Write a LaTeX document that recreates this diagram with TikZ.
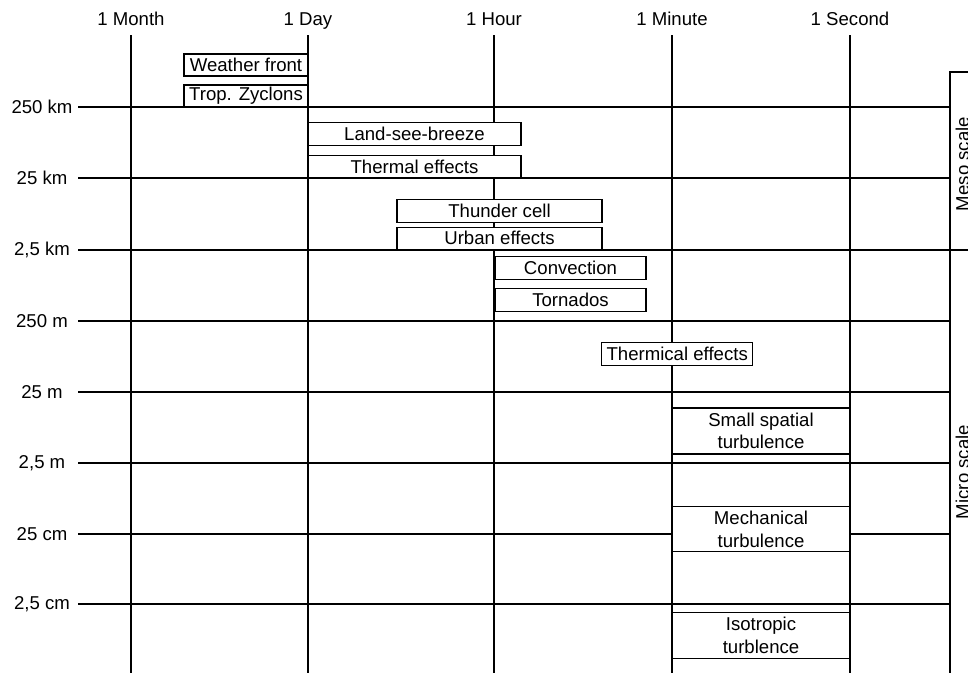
\documentclass[tikz,border=0pt]{standalone}
\usepackage{fontspec}
\setmainfont{Liberation Sans}
\tikzset{grid/.style={line width=1.1pt}}
\tikzset{lbl/.style={inner sep=0pt}}
\tikzset{event/.style={draw,fill=white,line width=1.1pt,inner sep=0pt,align=center}}

\begin{document}
\begin{tikzpicture}[x=1pt,y=-1pt,font=\fontsize{18.6}{22.6}\selectfont]
    \useasboundingbox (0,0) rectangle (968,673);
    % time axis
    \foreach \x/\t [count=\i] in {131/1 Month,308/1 Day,494/1 Hour,672/1 Minute,850/1 Second}{
      \node[lbl,anchor=base] (time\i) at (\x,25) {\t};
      \draw[grid] (\x,35) -- (\x,673);
    }
    % length axis
    \foreach \y/\t [count=\i] in {107/250 km,178/25 km,{250/2,5 km},321/250 m,392/25 m,{463/2,5 m},534/25 cm,{604/2,5 cm}}{
      \node[lbl] (len\i) at (42,\y) {\t};
      \draw[grid] (78,\y) -- (950,\y);
    }
    % scale bracket
    \coordinate (mtop) at (968,72);
    \coordinate (mcor) at (950,72);
    \coordinate (mbot) at (950,673);
    \draw[grid] (mtop) -- (mcor) -- (mbot);
    \draw[grid] (950,250) -- (968,250);
    \node[lbl,rotate=90] (meso) at (962.5,164) {Meso scale};
    \node[lbl,rotate=90] (micro) at (962.5,472) {Micro scale};
    % phenomena
    \node[event,minimum width=124,minimum height=22] (wfront) at (246,65) {Weather front};
    \node[event,minimum width=124,minimum height=22] (trop) at (246,96) {Trop. Zyclons};
    \node[event,minimum width=213,minimum height=23] (breeze) at (414.5,134) {Land-see-breeze};
    \node[event,minimum width=213,minimum height=22] (therm) at (414.5,166.7) {Thermal effects};
    \node[event,minimum width=205,minimum height=23] (thunder) at (499.5,210.7) {Thunder cell};
    \node[event,minimum width=205,minimum height=22] (urban) at (499.5,238.3) {Urban effects};
    \node[event,minimum width=151,minimum height=23] (conv) at (570.5,267.8) {Convection};
    \node[event,minimum width=151,minimum height=23] (torn) at (570.5,300.3) {Tornados};
    \node[event,minimum width=151,minimum height=23] (thermic) at (677.2,354) {Thermical effects};
    \node[event,minimum width=178,minimum height=46] (small) at (761,431) {Small spatial\\turbulence};
    \node[event,minimum width=178,minimum height=45] (mech) at (761,529.3) {Mechanical\\turbulence};
    \node[event,minimum width=178,minimum height=46] (iso) at (761,635.5) {Isotropic\\turblence};
\end{tikzpicture}
\end{document}
